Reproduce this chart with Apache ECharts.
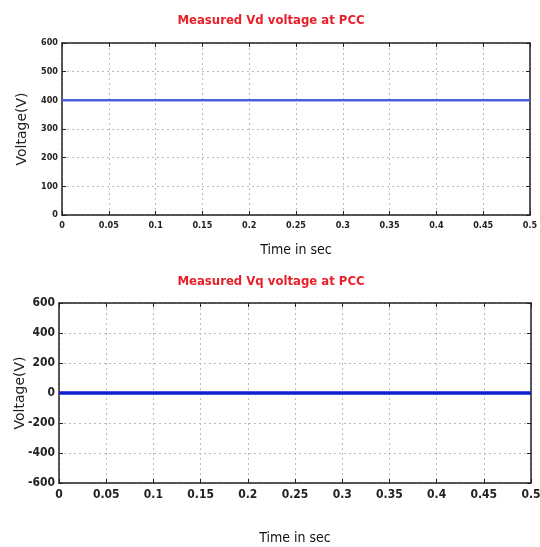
<!DOCTYPE html>
<html>
<head>
<meta charset="utf-8">
<script src="https://cdn.jsdelivr.net/npm/echarts@6/dist/echarts.min.js"></script>
<style>
html, body { margin: 0; padding: 0; background: #fff; }
#mychart { width: 540px; height: 547px; }
</style>
</head>
<body>
<div id="mychart"></div>
<script>
// values
const timeSec = [0, 0.05, 0.1, 0.15, 0.2, 0.25, 0.3, 0.35, 0.4, 0.45, 0.5]
const vdVolt = [400, 400, 400, 400, 400, 400, 400, 400, 400, 400, 400]
const vqVolt = [0, 0, 0, 0, 0, 0, 0, 0, 0, 0, 0]
const xTicks = ['0', '0.05', '0.1', '0.15', '0.2', '0.25', '0.3', '0.35', '0.4', '0.45', '0.5']

const narrow = '"DejaVu Sans Condensed", "Liberation Sans Narrow", sans-serif'
const chart = echarts.init(document.getElementById('mychart'))

function xLabel (v) {
  const i = Math.round(v / 0.05)
  return xTicks[i] !== undefined ? xTicks[i] : ''
}

function mkX (gi, size, gap) {
  return [{
    type: 'value', gridIndex: gi, min: 0, max: 0.5, interval: 0.05,
    axisLine: { onZero: false, lineStyle: { color: '#222', width: 1.5 } },
    axisTick: { inside: true, length: 4, lineStyle: { color: '#222' } },
    axisLabel: { formatter: xLabel, color: '#222', fontFamily: narrow, fontWeight: 'bold', fontSize: size, margin: 6 },
    splitLine: { show: true, lineStyle: { color: '#bbb', type: [2, 3] } },
    name: 'Time in sec', nameLocation: 'middle', nameGap: gap, nameMoveOverlap: false,
    nameTextStyle: { color: '#111', fontFamily: narrow, fontSize: 14 }
  }, {
    type: 'value', gridIndex: gi, position: 'top', min: 0, max: 0.5, interval: 0.05,
    axisLine: { onZero: false, lineStyle: { color: '#222', width: 1.5 } },
    axisTick: { inside: true, length: 4, lineStyle: { color: '#222' } },
    axisLabel: { show: false }, splitLine: { show: false }
  }]
}

function mkY (gi, min, max, step, size, gap) {
  return [{
    type: 'value', gridIndex: gi, min: min, max: max, interval: step,
    axisLine: { onZero: false, lineStyle: { color: '#222', width: 1.5 } },
    axisTick: { inside: true, length: 4, lineStyle: { color: '#222' } },
    axisLabel: { color: '#222', fontFamily: narrow, fontWeight: 'bold', fontSize: size, margin: 4 },
    splitLine: { show: true, lineStyle: { color: '#bbb', type: [2, 3] } },
    name: 'Voltage(V)', nameLocation: 'middle', nameRotate: 90, nameGap: gap, nameMoveOverlap: false,
    nameTextStyle: { color: '#222', fontFamily: 'DejaVu Sans', fontSize: 14 }
  }, {
    type: 'value', gridIndex: gi, position: 'right', min: min, max: max, interval: step,
    axisLine: { onZero: false, lineStyle: { color: '#222', width: 1.5 } },
    axisTick: { inside: true, length: 4, lineStyle: { color: '#222' } },
    axisLabel: { show: false }, splitLine: { show: false }
  }]
}

const titleStyle = { color: '#e8202a', fontFamily: narrow, fontWeight: 'bold', fontSize: 13 }

chart.setOption({
  animation: false,
  backgroundColor: '#fff',
  title: [
    { text: 'Measured Vd voltage at PCC', left: 266, top: 9, textAlign: 'center', textStyle: titleStyle },
    { text: 'Measured Vq voltage at PCC', left: 266, top: 270, textAlign: 'center', textStyle: titleStyle }
  ],
  grid: [
    { left: 62, top: 43, width: 468, height: 172, outerBoundsMode: 'none' },
    { left: 59, top: 303, width: 472, height: 180, outerBoundsMode: 'none' }
  ],
  xAxis: mkX(0, 9, 28).concat(mkX(1, 12, 48)),
  yAxis: mkY(0, 0, 600, 100, 9, 33).concat(mkY(1, -600, 600, 200, 12, 32)),
  series: [
    {
      type: 'line', xAxisIndex: 0, yAxisIndex: 0, symbol: 'none',
      data: timeSec.map((t, i) => [t, vdVolt[i]]),
      lineStyle: { color: '#4a5ee0', width: 2.5 }
    },
    {
      type: 'line', xAxisIndex: 2, yAxisIndex: 2, symbol: 'none',
      data: timeSec.map((t, i) => [t, vqVolt[i]]),
      lineStyle: { color: '#1020d0', width: 3.5 }
    }
  ]
})
</script>
</body>
</html>
